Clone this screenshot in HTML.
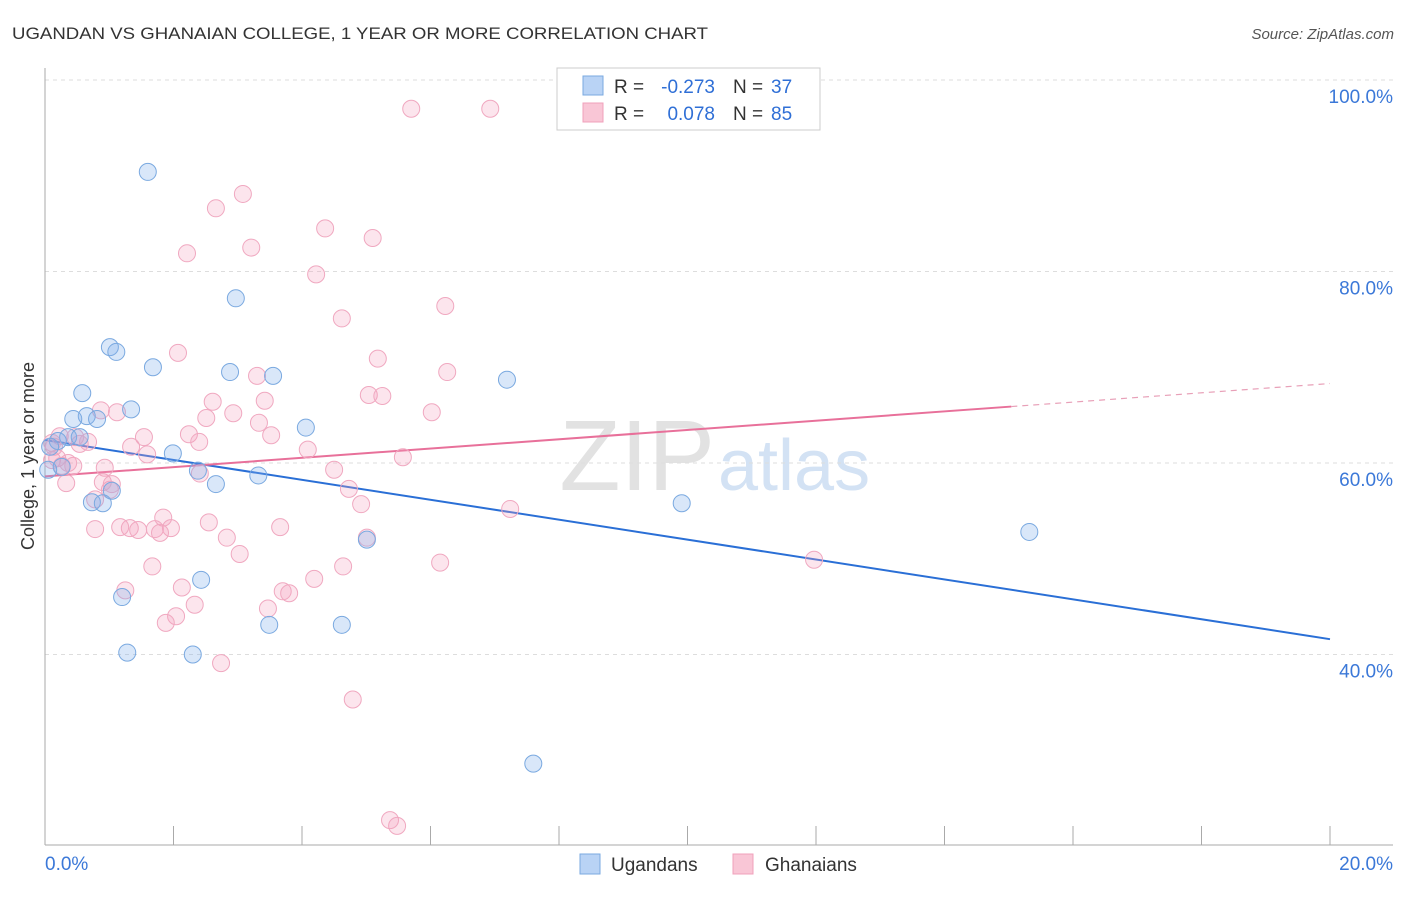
<!DOCTYPE html>
<html><head><meta charset="utf-8"><style>
body{margin:0;background:#fff;font-family:"Liberation Sans",sans-serif}
svg text{font-family:"Liberation Sans",sans-serif}
</style></head><body>
<svg id="chart" width="1406" height="892" viewBox="0 0 1406 892" xmlns="http://www.w3.org/2000/svg">
<text x="12" y="39" font-size="17" fill="#333" textLength="696" lengthAdjust="spacingAndGlyphs">UGANDAN VS GHANAIAN COLLEGE, 1 YEAR OR MORE CORRELATION CHART</text>
<text x="1394" y="39" font-size="15" fill="#555" font-style="italic" text-anchor="end">Source: ZipAtlas.com</text>
<text x="715" y="490" font-size="100" fill="#e2e2e2" text-anchor="end" font-family="Liberation Serif">ZIP</text>
<text x="718" y="490" font-size="72" fill="#d3e2f4">atlas</text>
<g id="grid"></g><g id="axes"></g><g id="lines"></g><g id="pts"></g>
<text transform="translate(34,456) rotate(-90)" font-size="18" fill="#333" text-anchor="middle">College, 1 year or more</text>
<g>
<rect x="557" y="68" width="263" height="62" fill="#fff" stroke="#ccc"/>
<rect x="583" y="76" width="20" height="19" fill="#b9d3f5" stroke="#7aa9e0"/>
<rect x="583" y="103" width="20" height="19" fill="#f9c6d6" stroke="#f0a0bb"/>
<text x="614" y="93" font-size="19" fill="#333">R =</text>
<text x="715" y="93" font-size="19" fill="#2f6fd6" text-anchor="end">-0.273</text>
<text x="733" y="93" font-size="19" fill="#333">N =</text>
<text x="771" y="93" font-size="19" fill="#2f6fd6">37</text>
<text x="614" y="120" font-size="19" fill="#333">R =</text>
<text x="715" y="120" font-size="19" fill="#2f6fd6" text-anchor="end">0.078</text>
<text x="733" y="120" font-size="19" fill="#333">N =</text>
<text x="771" y="120" font-size="19" fill="#2f6fd6">85</text>
</g>
<g>
<rect x="580" y="854" width="20" height="20" fill="#b9d3f5" stroke="#7aa9e0"/>
<text x="611" y="871" font-size="19" fill="#333">Ugandans</text>
<rect x="733" y="854" width="20" height="20" fill="#f9c6d6" stroke="#f0a0bb"/>
<text x="765" y="871" font-size="19" fill="#333">Ghanaians</text>
</g>
</svg>
<script>
const yTicks=[100,80,60,40];
const xTickVals=[0,2,4,6,8,10,12,14,16,18,20];
const blueX=[1.60,2.97,1.01,1.11,1.68,2.88,3.55,7.19,0.58,1.34,0.65,0.44,0.81,4.06,0.36,0.54,0.20,0.08,1.99,0.26,2.38,3.32,2.66,1.04,0.73,0.90,9.91,15.32,5.01,2.43,1.20,3.49,4.62,1.28,2.30,7.60,0.05];
const blueY=[90.4,77.2,72.1,71.6,70.0,69.5,69.1,68.7,67.3,65.6,64.9,64.6,64.6,63.7,62.7,62.7,62.3,61.7,61.0,59.6,59.2,58.7,57.8,57.1,55.9,55.8,55.8,52.8,52.0,47.8,46.0,43.1,43.1,40.2,40.0,28.6,59.3];
const pinkX=[5.70,6.93,3.08,2.66,4.36,5.10,2.21,3.21,4.22,6.23,4.62,2.07,5.18,6.26,3.30,2.61,3.42,5.04,5.25,6.02,0.87,1.12,2.93,2.51,3.33,3.52,1.54,2.24,2.40,4.09,5.57,1.34,1.59,0.67,0.54,0.47,0.23,0.14,0.11,0.26,0.44,0.93,2.41,4.50,0.33,1.04,1.01,4.73,4.92,7.24,2.55,3.66,0.78,1.32,1.17,1.45,1.84,1.71,1.96,1.79,2.83,5.01,3.03,1.67,4.64,6.15,11.97,1.25,2.13,3.70,3.80,4.19,2.33,2.04,1.88,3.47,2.74,4.79,5.37,5.48,0.11,0.19,0.36,0.90,0.78];
const pinkY=[97.0,97.0,88.1,86.6,84.5,83.5,81.9,82.5,79.7,76.4,75.1,71.5,70.9,69.5,69.1,66.4,66.5,67.1,67.0,65.3,65.5,65.3,65.2,64.7,64.2,62.9,62.7,63.0,62.2,61.4,60.6,61.7,60.9,62.2,62.0,62.7,62.8,61.7,60.3,59.7,59.7,59.5,58.9,59.3,57.9,57.8,57.2,57.3,55.7,55.2,53.8,53.3,53.1,53.2,53.3,53.0,54.3,53.1,53.2,52.7,52.2,52.2,50.5,49.2,49.2,49.6,49.9,46.7,47.0,46.6,46.4,47.9,45.2,44.0,43.3,44.8,39.1,35.3,22.7,22.1,62.1,60.5,60.0,58.0,56.2];
const blueTrend=[62.4,41.6];
const pinkTrend=[58.6,68.3];
const pinkSolidEnd=15.04;
const NS='http://www.w3.org/2000/svg';
const X=v=>45+v*64.25, Y=v=>80+(100-v)*9.575;
function mk(tag,attrs,parent){const e=document.createElementNS(NS,tag);for(const k in attrs)e.setAttribute(k,attrs[k]);document.getElementById(parent).appendChild(e);return e;}
yTicks.forEach(t=>{
 const l=mk('line',{x1:45,x2:1393,y1:Y(t),y2:Y(t),stroke:'#ddd','stroke-dasharray':'4,4'},'grid');
 
 
 const tx=mk('text',{x:1393,y:Y(t)+23,'font-size':19,fill:'#3b78d8','text-anchor':'end'},'grid');
 tx.textContent=t.toFixed(1)+'%';
 
 
});
mk('line',{x1:45,x2:45,y1:68,y2:845,stroke:'#aaa'},'axes');
mk('line',{x1:45,x2:1393,y1:845,y2:845,stroke:'#aaa'},'axes');
xTickVals.forEach(t=>{
 const l=mk('line',{x1:X(t),x2:X(t),y1:826,y2:845,stroke:'#aaa'},'axes');
 
 
});
[[0,'start','0.0%'],[20,'end','20.0%']].forEach(a=>{
 const tx=mk('text',{x:a[0]===0?45:1393,y:870,'font-size':19,fill:'#3b78d8','text-anchor':a[1]},'axes');
 tx.textContent=a[2];
 
 
});
const bl=mk('line',{x1:X(0),y1:Y(blueTrend[0]),x2:X(20),y2:Y(blueTrend[1]),stroke:'#2a6fd6','stroke-width':2},'lines');


const pm=v=>pinkTrend[0]+(pinkTrend[1]-pinkTrend[0])*v/20;
const pl=mk('line',{x1:X(0),y1:Y(pm(0)),x2:X(pinkSolidEnd),y2:Y(pm(pinkSolidEnd)),stroke:'#e8709a','stroke-width':2},'lines');


const pd=mk('line',{x1:X(pinkSolidEnd),y1:Y(pm(pinkSolidEnd)),x2:X(20),y2:Y(pm(20)),stroke:'#e8a0b8','stroke-width':1.2,'stroke-dasharray':'6,5'},'lines');


pinkX.forEach((v,i)=>{
 const c=mk('circle',{cx:X(v),cy:Y(pinkY[i]),r:8.5,fill:'rgba(244,160,190,0.28)',stroke:'#f0a8c0','stroke-width':1},'pts');
 
 
});
blueX.forEach((v,i)=>{
 const c=mk('circle',{cx:X(v),cy:Y(blueY[i]),r:8.5,fill:'rgba(130,175,235,0.3)',stroke:'#7aa9e0','stroke-width':1},'pts');
 
 
});
</script>
</body></html>
